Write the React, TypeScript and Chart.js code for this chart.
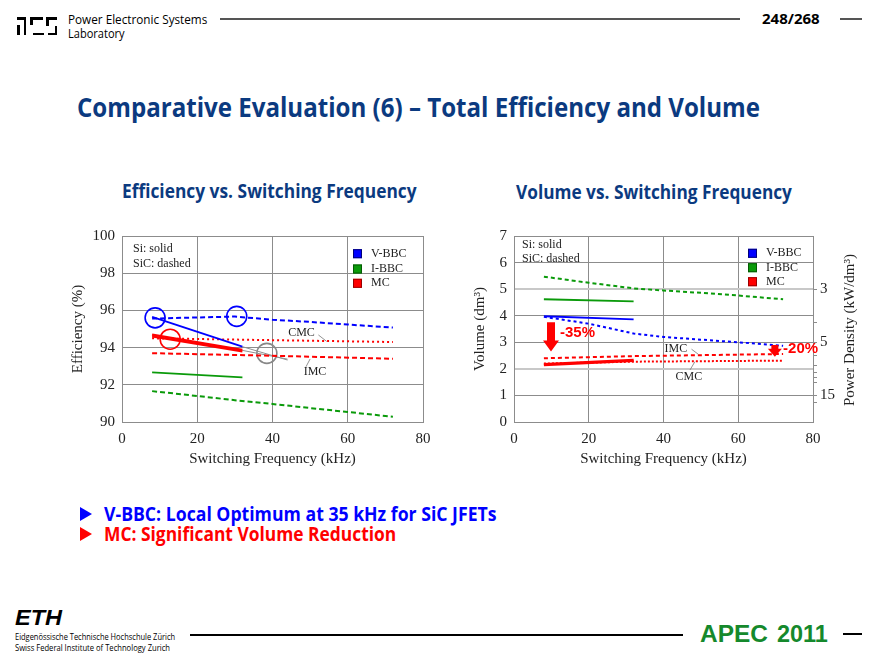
import { useEffect, useLayoutEffect, useRef } from 'react'
import { Chart, registerables } from 'chart.js'

Chart.register(...registerables)

// ---------- values ----------
// switching frequency grids (kHz)
const fSi = [8, 32]
const fSic = [8, 20, 30, 40, 50, 60, 72]
const fFlat = [8, 40, 72]
const fExt = [32, 44]

// total efficiency (%)
const effVbbcSi = [95.65, 94.05]
const effVbbcSic = [95.56, 95.62, 95.67, 95.5, 95.38, 95.24, 95.08]
const effIbbcSi = [92.67, 92.4]
const effIbbcSic = [91.66, 91.4, 91.17, 90.97, 90.75, 90.54, 90.28]
const effCmcSi = [94.7, 93.88]
const effImcSi = [94.6, 93.8]
const effCmcSic = [94.5, 94.4, 94.3]
const effImcSic = [93.7, 93.56, 93.4]
const effExtA = [94.05, 93.33]
const effExtB = [93.85, 93.38]
// highlighted operating points
const markF = [8.8, 30.5, 12.8, 38.5]
const markEff = [95.6, 95.68, 94.45, 93.69]

// total volume (dm3)
const fVolSic = [8, 20, 32, 40, 50, 60, 72]
const fVolFlat = [8, 32, 72]
const volIbbcSic = [5.47, 5.24, 5.03, 4.95, 4.86, 4.76, 4.62]
const volIbbcSi = [4.62, 4.54]
const volVbbcSi = [3.98, 3.86]
const volVbbcSic = [3.96, 3.7, 3.33, 3.2, 3.1, 3.0, 2.87]
const volImcSic = [2.4, 2.48, 2.56]
const volCmcSic = [2.2, 2.27, 2.31]
const volCmcSi = [2.14, 2.3]
const volImcSi = [2.18, 2.34]

// power density axis (kW/dm3), rated power 15 kW
const P_KW = 15
const pdLabels = [3, 5, 15]
const pdMinor = [3, 4, 5, 6, 7, 8, 9, 10, 15, 20]

const legendNames = ['V-BBC', 'I-BBC', 'MC']

// ---------- styling ----------
const BLUE = '#0000ff'
const GREEN = '#0a9a0a'
const RED = '#ff0000'
const GREY = '#8c8c8c'
const NAVY = '#0b3a80'
const serif = 'Liberation Serif'
const legendColors = [BLUE, GREEN, RED]
const legendEdges = ['#00007a', '#045a04', '#9a0000']

const pts = (xs: number[], ys: number[]) => xs.map((x, i) => ({ x, y: ys[i] }))

const line = (xs: number[], ys: number[], color: string, dash: number[] = [], width = 2) => ({
  data: pts(xs, ys),
  borderColor: color,
  borderWidth: width,
  borderDash: dash,
  pointRadius: 0,
  tension: 0,
  yAxisID: 'y',
})

type Note =
  | { t: 'text'; x: number; y: number; s: string; font?: string; color?: string; align?: CanvasTextAlign }
  | { t: 'lead'; x0: number; y0: number; x1: number; y1: number }
  | { t: 'arrow'; x: number; y0: number; y1: number; sw: number; hw: number; hh: number }

type Deco = { notes: Note[]; keyDx: number; keyDy: number[]; legDx: number; legDy: number[] }

function makeDeco(d: Deco) {
  return {
    id: 'deco',
    afterDatasetsDraw(chart: any) {
      const { ctx, chartArea: a, scales } = chart
      const X = (v: number) => scales.x.getPixelForValue(v)
      const Y = (v: number) => scales.y.getPixelForValue(v)
      ctx.save()
      ctx.textBaseline = 'middle'
      for (const n of d.notes) {
        if (n.t === 'text') {
          ctx.font = n.font || `12px "${serif}"`
          ctx.fillStyle = n.color || '#222'
          ctx.textAlign = n.align || 'center'
          ctx.fillText(n.s, X(n.x), Y(n.y))
        } else if (n.t === 'lead') {
          ctx.strokeStyle = '#777'
          ctx.lineWidth = 0.8
          ctx.beginPath()
          ctx.moveTo(X(n.x0), Y(n.y0))
          ctx.lineTo(X(n.x1), Y(n.y1))
          ctx.stroke()
        } else {
          const x = X(n.x), top = Y(n.y0), tip = Y(n.y1)
          ctx.fillStyle = RED
          ctx.beginPath()
          ctx.moveTo(x - n.sw / 2, top)
          ctx.lineTo(x + n.sw / 2, top)
          ctx.lineTo(x + n.sw / 2, tip - n.hh)
          ctx.lineTo(x + n.hw / 2, tip - n.hh)
          ctx.lineTo(x, tip)
          ctx.lineTo(x - n.hw / 2, tip - n.hh)
          ctx.lineTo(x - n.sw / 2, tip - n.hh)
          ctx.closePath()
          ctx.fill()
        }
      }
      // material key
      ctx.font = `12px "${serif}"`
      ctx.fillStyle = '#222'
      ctx.textAlign = 'left'
      ctx.fillText('Si: solid', a.left + d.keyDx, a.top + d.keyDy[0])
      ctx.fillText('SiC: dashed', a.left + d.keyDx, a.top + d.keyDy[1])
      // topology legend
      legendNames.forEach((name, i) => {
        const cy = a.top + d.legDy[i]
        const sx = a.right - d.legDx
        ctx.fillStyle = legendColors[i]
        ctx.fillRect(sx, cy - 4.5, 9, 9)
        ctx.strokeStyle = legendEdges[i]
        ctx.lineWidth = 1
        ctx.strokeRect(sx + 0.5, cy - 4, 8, 8)
        ctx.fillStyle = '#222'
        ctx.fillText(name, sx + 18, cy)
      })
      ctx.restore()
    },
  }
}

const tickFont = { family: serif, size: 15 }
const axisTitle = (text: string, padding: any) => ({
  display: true,
  text,
  color: '#222',
  font: { family: serif, size: 15 },
  padding,
})

function Plot({ left, top, width, height, datasets, scales, padding, deco }: any) {
  const ref = useRef<HTMLCanvasElement>(null)
  useEffect(() => {
    const chart = new Chart(ref.current!, {
      type: 'line',
      data: { datasets },
      options: {
        responsive: true,
        maintainAspectRatio: false,
        animation: false,
        layout: { padding },
        plugins: { legend: { display: false }, tooltip: { enabled: false } },
        scales,
      },
      plugins: [makeDeco(deco)],
    } as any)
    return () => chart.destroy()
  }, [])
  return (
    <div style={{ position: 'absolute', left, top, width, height }}>
      <canvas ref={ref} />
    </div>
  )
}

function Txt({ x, y, w, size, color = '#000', weight = 400, family = 'Open Sans', italic = false, children }: any) {
  const ref = useRef<HTMLSpanElement>(null)
  useLayoutEffect(() => {
    const fit = () => {
      const el = ref.current
      if (!el || !el.offsetWidth) return
      el.style.transform = `translateY(-50%) scaleX(${w / el.offsetWidth})`
    }
    fit()
    document.fonts?.ready.then(fit)
  }, [w, children])
  return (
    <span
      ref={ref}
      style={{
        position: 'absolute', left: x, top: y, whiteSpace: 'nowrap', fontSize: size, lineHeight: 1,
        color, fontWeight: weight, fontFamily: family, fontStyle: italic ? 'italic' : 'normal',
        transformOrigin: '0 50%', transform: 'translateY(-50%)',
      }}
    >
      {children}
    </span>
  )
}

const Bar = ({ x, y, w, h, c = '#000' }: any) => (
  <div style={{ position: 'absolute', left: x, top: y, width: w, height: h, background: c }} />
)

const Tri = ({ x, y, c }: any) => (
  <div style={{
    position: 'absolute', left: x, top: y, width: 0, height: 0,
    borderTop: '7px solid transparent', borderBottom: '7px solid transparent', borderLeft: `12px solid ${c}`,
  }} />
)

function EfficiencyChart() {
  const datasets = [
    line(fSi, effVbbcSi, BLUE, [], 1.8),
    line(fSic, effVbbcSic, BLUE, [5, 3]),
    line(fSi, effCmcSi, RED, [], 2.2),
    line(fSi, effImcSi, RED, [], 2.2),
    line(fFlat, effCmcSic, RED, [2, 3]),
    line(fFlat, effImcSic, RED, [5, 3]),
    line(fSi, effIbbcSi, GREEN, [], 1.8),
    line(fSic, effIbbcSic, GREEN, [5, 3]),
    line(fExt, effExtA, '#909090', [], 1),
    line(fExt, effExtB, '#909090', [], 1),
    {
      data: pts(markF, markEff),
      showLine: false,
      pointRadius: 10,
      pointBorderWidth: 1.6,
      pointBackgroundColor: 'rgba(0,0,0,0)',
      pointBorderColor: [BLUE, BLUE, RED, '#888'],
      yAxisID: 'y',
    },
  ]
  const scales = {
    x: {
      type: 'linear', min: 0, max: 80,
      ticks: { stepSize: 20, color: '#222', font: tickFont, padding: 8 },
      grid: { color: GREY, drawTicks: false },
      border: { color: GREY },
      title: axisTitle('Switching Frequency (kHz)', { top: 0, bottom: 4 }),
      afterFit: (s: any) => { s.height = 50 },
    },
    y: {
      type: 'linear', min: 90, max: 100,
      ticks: { stepSize: 2, color: '#222', font: tickFont, padding: 7 },
      grid: { color: GREY, drawTicks: false },
      border: { color: GREY },
      title: axisTitle('Efficiency (%)', { top: 9 }),
      afterFit: (s: any) => { s.width = 62 },
    },
  }
  const deco: Deco = {
    notes: [
      { t: 'text', x: 47.7, y: 94.77, s: 'CMC' },
      { t: 'lead', x0: 52.2, y0: 94.68, x1: 54.4, y1: 94.33 },
      { t: 'text', x: 51.3, y: 92.67, s: 'IMC' },
      { t: 'lead', x0: 48.9, y0: 92.97, x1: 50, y1: 93.39 },
    ],
    keyDx: 11, keyDy: [13, 28],
    legDx: 70, legDy: [17.7, 33, 47.3],
  }
  return <Plot left={60} top={220} width={380} height={252} datasets={datasets} scales={scales}
    padding={{ top: 0, right: 17, left: 0, bottom: 0 }} deco={deco} />
}

function VolumeChart() {
  const datasets = [
    line(fVolSic, volIbbcSic, GREEN, [4, 3]),
    line(fSi, volIbbcSi, GREEN, [], 1.8),
    line(fSi, volVbbcSi, BLUE, [], 1.8),
    line(fVolSic, volVbbcSic, BLUE, [3, 3]),
    line(fVolFlat, volImcSic, RED, [4, 3]),
    line(fVolFlat, volCmcSic, RED, [2, 2]),
    line(fSi, volCmcSi, RED, [], 2.2),
    line(fSi, volImcSi, RED, [], 2.2),
  ]
  const scales = {
    x: {
      type: 'linear', min: 0, max: 80,
      ticks: { stepSize: 20, color: '#222', font: tickFont, padding: 8 },
      grid: { color: GREY, drawTicks: false },
      border: { color: GREY },
      title: axisTitle('Switching Frequency (kHz)', { top: 0, bottom: 4 }),
      afterFit: (s: any) => { s.height = 50 },
    },
    y: {
      type: 'linear', position: 'left', min: 0, max: 7,
      ticks: { stepSize: 1, color: '#222', font: tickFont, padding: 7 },
      grid: {
        drawTicks: false,
        color: (c: any) => ([2, 5].includes(c.tick?.value) ? '#c8c8c8' : GREY),
        lineWidth: (c: any) => ([2, 5].includes(c.tick?.value) ? 2 : 1),
      },
      border: { color: GREY },
      title: axisTitle('Volume (dm³)', { top: 9 }),
      afterFit: (s: any) => { s.width = 52 },
    },
    y2: {
      type: 'linear', position: 'right', min: 0, max: 7,
      afterBuildTicks: (s: any) => {
        s.ticks = pdMinor.map((p) => ({ value: P_KW / p })).sort((a, b) => a.value - b.value)
      },
      ticks: {
        autoSkip: false, color: '#222', font: tickFont, padding: 3,
        callback: (v: number) => {
          const hit = pdLabels.find((l) => Math.abs(P_KW / l - v) < 1e-6)
          return hit ? String(hit) : ''
        },
      },
      grid: { drawOnChartArea: false, drawTicks: true, tickLength: 4, color: GREY },
      border: { color: GREY },
      afterFit: (s: any) => { s.width = 59 },
    },
  }
  const pct = 'bold 15px "Liberation Sans"'
  const deco: Deco = {
    notes: [
      { t: 'text', x: 43.3, y: 2.77, s: 'IMC' },
      { t: 'lead', x0: 47.5, y0: 2.74, x1: 49.3, y1: 2.55 },
      { t: 'text', x: 46.8, y: 1.7, s: 'CMC' },
      { t: 'lead', x0: 47.1, y0: 1.96, x1: 48.4, y1: 2.27 },
      { t: 'arrow', x: 9.9, y0: 3.75, y1: 2.65, sw: 8, hw: 16, hh: 11 },
      { t: 'arrow', x: 69.8, y0: 2.9, y1: 2.46, sw: 7, hw: 14, hh: 8 },
      { t: 'text', x: 12.3, y: 3.35, s: '-35%', font: pct, color: RED, align: 'left' },
      { t: 'text', x: 72, y: 2.75, s: '-20%', font: pct, color: RED, align: 'left' },
    ],
    keyDx: 8, keyDy: [9, 23],
    legDx: 65, legDy: [17.3, 31.7, 45.7],
  }
  return (
    <>
      <Plot left={462} top={220} width={410} height={252} datasets={datasets} scales={scales}
        padding={{ top: 0, right: 0, left: 0, bottom: 0 }} deco={deco} />
      <div style={{
        position: 'absolute', left: 849, top: 330, whiteSpace: 'nowrap', fontFamily: serif, fontSize: 15,
        color: '#222', transform: 'translate(-50%, -50%) rotate(-90deg)', lineHeight: 1,
      }}>
        Power Density (kW/dm³)
      </div>
    </>
  )
}

export default function App() {
  return (
    <div style={{ position: 'absolute', left: 0, top: 0, width: 883, height: 658, background: '#fff', overflow: 'hidden' }}>
      {/* header logo */}
      <Bar x={17} y={17} w={9} h={2.5} />
      <Bar x={23.5} y={17} w={2.5} h={18} />
      <Bar x={17} y={25} w={2.5} h={10} />
      <Bar x={30} y={17} w={13} h={2.5} />
      <Bar x={30} y={17} w={2.5} h={8} />
      <Bar x={32.5} y={32.5} w={11} h={2.5} />
      <Bar x={46} y={17} w={11} h={2.5} />
      <Bar x={46} y={17} w={2.5} h={9} />
      <Bar x={54.5} y={26} w={2.5} h={9} />
      <Bar x={48} y={32.5} w={9} h={2.5} />
      <Txt x={68} y={19} w={139} size={13}>Power Electronic Systems</Txt>
      <Txt x={68} y={32.5} w={57} size={13}>Laboratory</Txt>
      <Bar x={220} y={18} w={520} h={2} c="#555" />
      <Txt x={762} y={18} w={58} size={15} weight={700}>248/268</Txt>
      <Bar x={840} y={18} w={22} h={2} c="#555" />

      <Txt x={77} y={107} w={683} size={26} weight={700} color={NAVY}>
        Comparative Evaluation (6) – Total Efficiency and Volume
      </Txt>
      <Txt x={122} y={191} w={295} size={19} weight={700} color={NAVY}>Efficiency vs. Switching Frequency</Txt>
      <Txt x={516} y={192} w={276} size={19} weight={700} color={NAVY}>Volume vs. Switching Frequency</Txt>

      <EfficiencyChart />
      <VolumeChart />

      {/* conclusions */}
      <Tri x={80} y={507} c={BLUE} />
      <Txt x={104} y={514} w={393} size={19} weight={700} color={BLUE}>V-BBC: Local Optimum at 35 kHz for SiC JFETs</Txt>
      <Tri x={80} y={527} c={RED} />
      <Txt x={104} y={534} w={292} size={19} weight={700} color={RED}>MC: Significant Volume Reduction</Txt>

      {/* footer */}
      <Txt x={15} y={618} w={47} size={22} weight={900} italic family="Liberation Sans">ETH</Txt>
      <Txt x={15} y={637} w={160} size={8.5}>Eidgenössische Technische Hochschule Zürich</Txt>
      <Txt x={15} y={648} w={155} size={8.5}>Swiss Federal Institute of Technology Zurich</Txt>
      <Bar x={190} y={634} w={493} h={1.5} />
      <Txt x={700} y={634} w={68} size={23} weight={700} color="#15892c" family="Liberation Sans">APEC</Txt>
      <Txt x={777} y={634} w={51} size={23} weight={700} color="#15892c" family="Liberation Sans">2011</Txt>
      <Bar x={843} y={633} w={19} h={1.5} />
    </div>
  )
}
